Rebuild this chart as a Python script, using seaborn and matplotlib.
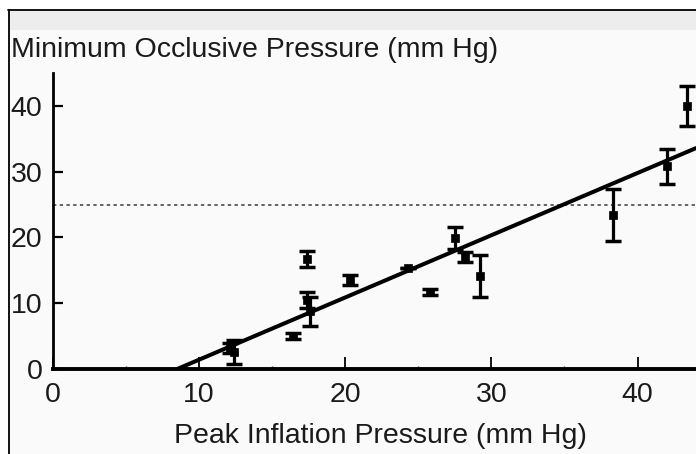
import matplotlib
matplotlib.use("Agg")
import matplotlib.pyplot as plt
from matplotlib.patches import Rectangle
from matplotlib.lines import Line2D
import seaborn as sns
import numpy as np
import pandas as pd

# ---- data ----
peak_pressure = [12.1, 12.4, 16.4, 17.4, 17.4, 17.6, 20.3, 24.3, 25.8, 27.5, 28.2, 29.2, 38.3, 42.0, 43.4]
occlusive_pressure = [3.2, 2.6, 5.0, 16.7, 10.5, 8.8, 13.5, 15.3, 11.7, 19.9, 17.0, 14.1, 23.4, 30.8, 40.0]
error = [0.7, 1.8, 0.5, 1.2, 1.2, 2.2, 0.75, 0.0, 0.5, 1.7, 0.8, 3.2, 4.0, 2.7, 3.0]
fit_x_intercept = 8.5
fit_slope = 0.946
reference_level = 25
x_ticks = [0, 10, 20, 30, 40]
y_ticks = [0, 10, 20, 30, 40]
x_label = "Peak Inflation Pressure (mm Hg)"
y_label = "Minimum Occlusive Pressure (mm Hg)"

df = pd.DataFrame({"x": peak_pressure, "y": occlusive_pressure, "err": error})

sns.set_style("ticks")
plt.rcParams["font.family"] = ["Liberation Sans", "DejaVu Sans"]
TXT = "#1a1a1a"
FS = 20.5

W, H = 696, 454
fig = plt.figure(figsize=(W / 100, H / 100), dpi=100)
fig.patch.set_facecolor("white")

# page-like background and border
fig.patches.append(Rectangle((8 / W, 0), 1 - 8 / W, 1 - 10 / H, transform=fig.transFigure,
                             facecolor="#fafafa", edgecolor="none", zorder=-10))
fig.patches.append(Rectangle((8 / W, 1 - 30 / H), 1 - 8 / W, 19 / H, transform=fig.transFigure,
                             facecolor="#ededed", edgecolor="none", zorder=-9))
fig.lines.append(Line2D([8 / W, 1], [1 - 10 / H, 1 - 10 / H], transform=fig.transFigure,
                        color="black", lw=1.3, zorder=-8))
fig.lines.append(Line2D([8.5 / W, 8.5 / W], [0, 1 - 10 / H], transform=fig.transFigure,
                        color="black", lw=1.3, zorder=-8))

left, right, bottom, top = 53 / W, 1.0, 1 - 369 / H, 1 - 73 / H
ax = fig.add_axes([left, bottom, right - left, top - bottom])
ax.set_zorder(5)
ax.set_facecolor("none")

# dotted reference line
ax.axhline(reference_level, color="#3a3a3a", lw=1.1, ls=(0, (2.2, 2.2)), zorder=1)

# fitted line
fit_x = np.array([fit_x_intercept, 44.0])
fit_y = fit_slope * (fit_x - fit_x_intercept)
sns.lineplot(x=fit_x, y=fit_y, ax=ax, color="black", lw=2.9, zorder=3)

# error bars and points
ax.errorbar(df["x"], df["y"], yerr=df["err"], fmt="none", ecolor="black",
            elinewidth=2.3, capsize=6, capthick=2.5, zorder=4)
sns.scatterplot(data=df, x="x", y="y", ax=ax, marker="s", s=30, color="black",
                edgecolor="black", linewidth=0.5, zorder=5)

ax.set_xlim(0, 44)
ax.set_ylim(0, 45)
ax.set_xticks(x_ticks)
ax.set_yticks(y_ticks)
ax.set_xticks([5, 15, 25, 35], minor=True)
ax.tick_params(axis="x", which="major", direction="in", length=9, width=1.3,
               labelsize=FS, pad=9, colors="black", labelcolor=TXT)
ax.tick_params(axis="x", which="minor", direction="in", length=2.5, width=1.0)
ax.tick_params(axis="y", which="major", direction="in", length=7, width=1.6,
               labelsize=FS, pad=7.5, colors="black", labelcolor=TXT)

for s in ["top", "right"]:
    ax.spines[s].set_visible(False)
ax.spines["left"].set_linewidth(2.0)
ax.spines["bottom"].set_linewidth(2.8)
ax.spines["left"].set_color("black")
ax.spines["bottom"].set_color("black")

ax.set_xlabel(x_label, fontsize=FS, color=TXT)
ax.xaxis.set_label_coords((380 - 53) / 643, (369 - 423) / 296)
ax.xaxis.label.set_va("top")

ax.set_ylabel(y_label, fontsize=FS, color=TXT, rotation=0)
ax.yaxis.set_label_coords((11 - 53) / 643, (369 - 57) / 296)
ax.yaxis.label.set_ha("left")
ax.yaxis.label.set_va("baseline")

fig.savefig("out.png", dpi=100)
